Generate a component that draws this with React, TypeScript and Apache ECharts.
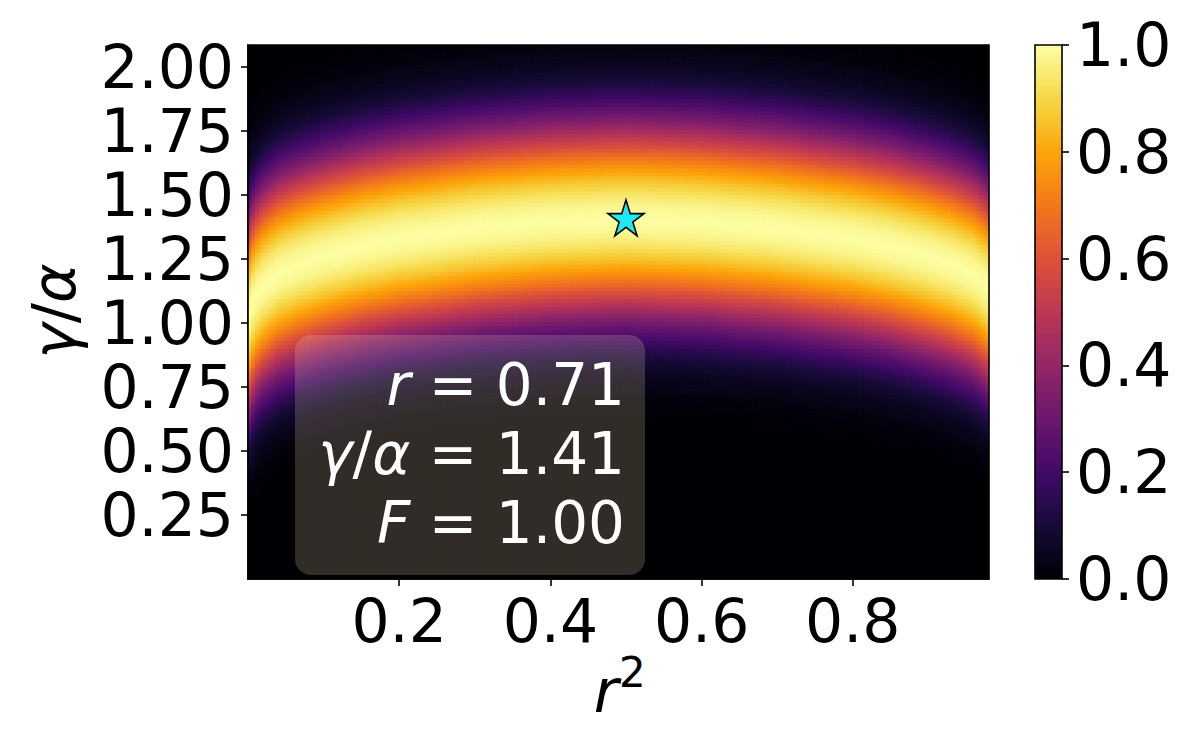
import React, { useEffect, useRef } from "react";
import * as echarts from "echarts";

// ---- axis ticks ----
const xTickValues = [0.2, 0.4, 0.6, 0.8];
const yTickValues = [0.25, 0.5, 0.75, 1.0, 1.25, 1.5, 1.75, 2.0];
const cbTickValues = [0, 0.2, 0.4, 0.6, 0.8, 1.0];

// ---- data extents (r^2 and gamma/alpha) ----
const r2Extent = [0.0001, 0.9801];
const gaExtent = [0.0, 2.085];

// ---- ridge of maximum fidelity ----
const ridgeR2 = [0, 0.01, 0.02, 0.04, 0.07, 0.1, 0.15, 0.2, 0.3, 0.4, 0.5, 0.6, 0.7, 0.8, 0.85, 0.9, 0.93, 0.96, 0.98];
const ridgeGA = [1.02, 1.1, 1.14, 1.19, 1.23, 1.26, 1.3, 1.33, 1.37, 1.395, 1.405, 1.395, 1.37, 1.33, 1.3, 1.26, 1.23, 1.19, 1.14];

// ---- fidelity cross-section vs distance from the ridge ----
const profileDist = [0, 0.05, 0.1, 0.15, 0.2, 0.25, 0.3, 0.35, 0.4, 0.45, 0.5, 0.55, 0.6, 0.7, 0.8];
const profileF = [1.0, 0.98, 0.935, 0.865, 0.775, 0.67, 0.555, 0.44, 0.33, 0.235, 0.155, 0.095, 0.055, 0.015, 0.0];

// ---- inferno colormap ----
const infernoColors = [
  "#000004", "#160b39", "#420a68", "#6a176e", "#932667", "#bc3754",
  "#dd513a", "#f37819", "#fca50a", "#f6d746", "#fcffa4",
];

// ---- optimum marker and annotation ----
const starPoint = [0.5, 1.41];
const infoLines = [
  { sym: "{i|r}", value: "0.71" },
  { sym: "{i|γ}/{i|α}", value: "1.41" },
  { sym: "{i|F}", value: "1.00" },
];

const NX = 196;
const NY = 139;
const NC = 256;

function lerp(xs: number[], ys: number[], x: number): number {
  if (x <= xs[0]) return ys[0];
  if (x >= xs[xs.length - 1]) return ys[ys.length - 1];
  for (let k = 1; k < xs.length; k++) {
    if (x <= xs[k]) {
      const t = (x - xs[k - 1]) / (xs[k] - xs[k - 1]);
      return ys[k - 1] + t * (ys[k] - ys[k - 1]);
    }
  }
  return ys[ys.length - 1];
}

function buildCells() {
  const cells: number[][] = [];
  for (let i = 0; i < NX; i++) {
    const r2 = r2Extent[0] + ((i + 0.5) * (r2Extent[1] - r2Extent[0])) / NX;
    const c = lerp(ridgeR2, ridgeGA, r2);
    for (let j = 0; j < NY; j++) {
      const ga = gaExtent[0] + ((j + 0.5) * (gaExtent[1] - gaExtent[0])) / NY;
      cells.push([i, j, lerp(profileDist, profileF, Math.abs(ga - c))]);
    }
  }
  return cells;
}

const PLOT = { left: 248, top: 45, width: 741, height: 534 };
const CBAR = { left: 1035, top: 45, width: 27, height: 534 };
const FONT = "DejaVu Sans";
const TICK_FS = 60;

const STAR_PATH =
  "path://M100,0 L122.4,69.2 L195.1,69.1 L136.2,111.8 L158.8,180.9 L100,138.1 L41.2,180.9 L63.8,111.8 L4.9,69.1 L77.6,69.2 Z";

function cellRenderer(params: any, api: any) {
  const p = api.coord([api.value(0), api.value(1)]);
  const s = api.size([1, 1]);
  const pad = 0.45;
  return {
    type: "rect",
    shape: {
      x: p[0] - s[0] / 2 - pad,
      y: p[1] - s[1] / 2 - pad,
      width: s[0] + 2 * pad,
      height: s[1] + 2 * pad,
    },
    style: { fill: api.visual("color") },
  };
}

export default function App() {
  const ref = useRef<HTMLDivElement>(null);
  useEffect(() => {
    const chart = echarts.init(ref.current as HTMLDivElement, null, { renderer: "svg" });
    const cells = buildCells();
    const xCats = Array.from({ length: NX }, (_, i) => String(i));
    const yCats = Array.from({ length: NY }, (_, j) => String(j));
    const cbCats = Array.from({ length: NC }, (_, k) => String(k));
    const cbCells = cbCats.map((_, k) => [0, k, (k + 0.5) / NC]);

    const axisLineStyle = { color: "#000", width: 1.6 };
    const labelStyle = { fontSize: TICK_FS, fontFamily: FONT, color: "#000" };

    const infoTop = 385;
    const infoStep = 69;

    const option: any = {
      animation: false,
      backgroundColor: "#fff",
      grid: [
        { ...PLOT, containLabel: false },
        { ...PLOT, containLabel: false },
        { ...CBAR, containLabel: false },
      ],
      xAxis: [
        { gridIndex: 0, type: "category", data: xCats, show: false },
        {
          gridIndex: 1,
          type: "value",
          min: r2Extent[0],
          max: r2Extent[1],
          axisLine: { show: true, lineStyle: axisLineStyle },
          axisTick: { show: true, customValues: xTickValues, length: 7, lineStyle: axisLineStyle },
          axisLabel: {
            customValues: xTickValues,
            formatter: (v: number) => v.toFixed(1),
            margin: 12,
            ...labelStyle,
          },
          splitLine: { show: false },
        },
        { gridIndex: 2, type: "category", data: ["c"], show: false },
      ],
      yAxis: [
        { gridIndex: 0, type: "category", data: yCats, show: false },
        {
          gridIndex: 1,
          type: "value",
          min: gaExtent[0],
          max: gaExtent[1],
          axisLine: { show: true, lineStyle: axisLineStyle },
          axisTick: { show: true, customValues: yTickValues, length: 7, lineStyle: axisLineStyle },
          axisLabel: {
            customValues: yTickValues,
            formatter: (v: number) => v.toFixed(2),
            margin: 14,
            ...labelStyle,
          },
          splitLine: { show: false },
        },
        { gridIndex: 2, type: "category", data: cbCats, show: false },
        {
          gridIndex: 2,
          type: "value",
          position: "right",
          min: 0,
          max: 1,
          interval: 0.2,
          axisLine: { show: false },
          axisTick: { show: true, customValues: cbTickValues, length: 7, lineStyle: axisLineStyle },
          axisLabel: {
            customValues: cbTickValues,
            formatter: (v: number) => v.toFixed(1),
            margin: 14,
            ...labelStyle,
          },
          splitLine: { show: false },
        },
      ],
      visualMap: {
        type: "continuous",
        show: false,
        min: 0,
        max: 1,
        dimension: 2,
        seriesIndex: [0, 2],
        inRange: { color: infernoColors },
      },
      series: [
        {
          type: "custom",
          xAxisIndex: 0,
          yAxisIndex: 0,
          data: cells,
          renderItem: cellRenderer,
          progressive: 0,
          silent: true,
          clip: true,
          encode: { x: 0, y: 1 },
        },
        {
          type: "scatter",
          xAxisIndex: 1,
          yAxisIndex: 1,
          data: [starPoint],
          symbol: STAR_PATH,
          symbolSize: 36,
          itemStyle: { color: "#1fe9f5", borderColor: "#000", borderWidth: 1.6, opacity: 1 },
          z: 10,
          silent: true,
        },
        {
          type: "custom",
          xAxisIndex: 2,
          yAxisIndex: 2,
          data: cbCells,
          renderItem: cellRenderer,
          progressive: 0,
          silent: true,
          clip: true,
          encode: { x: 0, y: 1 },
        },
      ],
      graphic: [
        {
          type: "rect",
          shape: { x: PLOT.left, y: PLOT.top, width: PLOT.width, height: PLOT.height },
          style: { fill: "none", stroke: "#000", lineWidth: 1.6 },
          z: 100,
          silent: true,
        },
        {
          type: "rect",
          shape: { x: CBAR.left, y: CBAR.top, width: CBAR.width, height: CBAR.height },
          style: { fill: "none", stroke: "#000", lineWidth: 1.6 },
          z: 100,
          silent: true,
        },
        {
          type: "rect",
          shape: { x: 295, y: 335, width: 350, height: 240, r: 16 },
          style: { fill: "rgba(245,222,179,0.2)" },
          z: 50,
          silent: true,
        },
        ...infoLines.map((ln, k) => ({
          type: "text",
          x: 625,
          y: infoTop + k * infoStep,
          z: 60,
          silent: true,
          style: {
            text: `${ln.sym} = ${ln.value}`,
            fontSize: 58,
            fontFamily: FONT,
            fill: "#fff",
            align: "right",
            verticalAlign: "middle",
            rich: {
              i: { fontStyle: "italic", fontSize: 58, fontFamily: FONT, fill: "#fff" },
            },
          },
        })),
        {
          type: "text",
          x: 606,
          y: 691,
          z: 60,
          silent: true,
          style: {
            text: "r",
            fontSize: 60,
            fontStyle: "italic",
            fontFamily: FONT,
            fill: "#000",
            align: "center",
            verticalAlign: "middle",
          },
        },
        {
          type: "text",
          x: 619,
          y: 672,
          z: 60,
          silent: true,
          style: {
            text: "2",
            fontSize: 42,
            fontFamily: FONT,
            fill: "#000",
            align: "left",
            verticalAlign: "middle",
          },
        },
        {
          type: "text",
          x: 54,
          y: 311,
          rotation: Math.PI / 2,
          z: 60,
          silent: true,
          style: {
            text: "{i|γ}/{i|α}",
            fontSize: 60,
            fontFamily: FONT,
            fill: "#000",
            align: "center",
            verticalAlign: "middle",
            rich: {
              i: { fontStyle: "italic", fontSize: 60, fontFamily: FONT, fill: "#000" },
            },
          },
        },
      ],
    };
    chart.setOption(option);
    return () => chart.dispose();
  }, []);
  return (
    <div
      ref={ref}
      style={{ position: "fixed", left: 0, top: 0, width: 1200, height: 748, background: "#fff" }}
    />
  );
}
